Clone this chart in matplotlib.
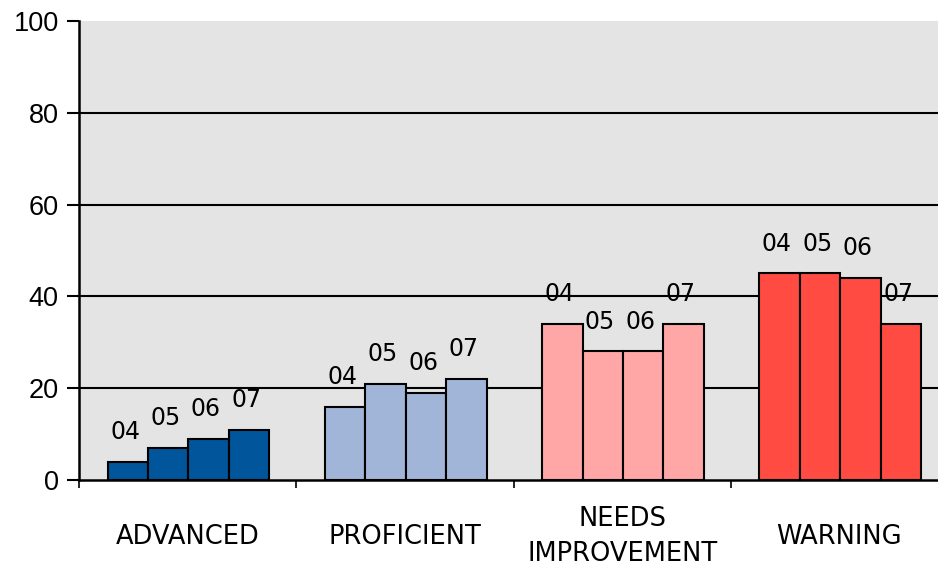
import matplotlib
matplotlib.use("Agg")
import matplotlib.pyplot as plt
import numpy as np

categories = ["ADVANCED", "PROFICIENT", "NEEDS\nIMPROVEMENT", "WARNING"]
years = ["04", "05", "06", "07"]
advanced = [4, 7, 9, 11]
proficient = [16, 21, 19, 22]
needs_improvement = [34, 28, 28, 34]
warning = [45, 45, 44, 34]
yticks = [0, 20, 40, 60, 80, 100]

series_by_cat = [advanced, proficient, needs_improvement, warning]
colors = ["#00559B", "#A0B5D8", "#FFA6A6", "#FF4B41"]

fig = plt.figure(figsize=(9.38, 5.67), dpi=100)
W, H = 938, 567
ax = fig.add_axes([79 / W, (H - 480) / H, (948 - 79) / W, 459 / H])
ax.set_facecolor("#E4E4E4")

bw = 0.186
for i, (vals, c) in enumerate(zip(series_by_cat, colors)):
    xs = i + 0.504 + (np.arange(4) - 1.5) * bw
    ax.bar(xs, vals, width=bw, color=c, edgecolor="black", linewidth=1.5, zorder=3)
    for x, v, lab in zip(xs, vals, years):
        ax.annotate(lab, (x, v), xytext=(-2, 21.5), textcoords="offset points",
                    ha="center", va="center", fontsize=17, family="DejaVu Sans",
                    color="black", zorder=4)

ax.set_xlim(0, 4)
ax.set_ylim(0, 100)
ax.set_yticks(yticks)
ax.set_yticklabels([str(v) for v in yticks], fontsize=19.5, family="Liberation Sans")
ax.tick_params(axis="y", direction="out", length=8.5, width=1.5, pad=6, color="black")

ax.set_xticks([0, 1, 2, 3, 4])
ax.set_xticklabels([])
ax.tick_params(axis="x", direction="out", length=6, width=1.2, color="black")
for i, cat in enumerate(categories):
    ax.text(i + 0.5, -0.124, cat, transform=ax.get_xaxis_transform(),
            ha="center", va="center", fontsize=18.5, family="DejaVu Sans",
            linespacing=1.45, color="black")

ax.yaxis.grid(True, color="black", linewidth=1.5)
ax.set_axisbelow(True)
ax.yaxis.get_gridlines()[-1].set_visible(False)
ax.yaxis.get_gridlines()[0].set_visible(False)

for s in ["top", "right"]:
    ax.spines[s].set_visible(False)
ax.spines["left"].set_linewidth(1.8)
ax.spines["bottom"].set_linewidth(1.8)
ax.spines["left"].set_zorder(5)
ax.spines["bottom"].set_zorder(5)

fig.savefig("out.png", dpi=100)
